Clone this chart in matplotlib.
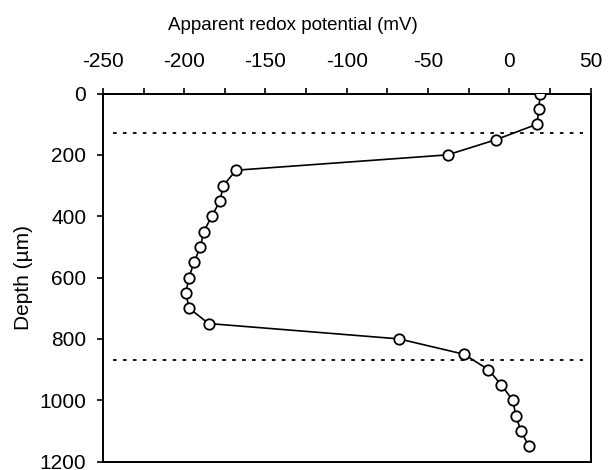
import matplotlib
matplotlib.use("Agg")
import matplotlib.pyplot as plt
from matplotlib.ticker import MultipleLocator

plt.rcParams['font.family'] = ['Liberation Sans', 'DejaVu Sans']
plt.rcParams['axes.unicode_minus'] = False

# depth profile (µm) and apparent redox potential (mV)
depth = [0, 50, 100, 150, 200, 250, 300, 350, 400, 450, 500, 550, 600, 650,
         700, 750, 800, 850, 900, 950, 1000, 1050, 1100, 1150]
redox = [19, 18, 17, -8, -38, -168, -176, -178, -183, -188, -190, -194, -197,
         -199, -197, -185, -68, -28, -13, -5, 2, 4, 7, 12]

# dotted boundary depths
boundaries = [130, 870]

fig = plt.figure(figsize=(6.16, 4.70), dpi=100)
ax = fig.add_axes([0.167, 0.018, 0.792, 0.783])

for b in boundaries:
    ax.plot([-244, 45], [b, b], color='black', linestyle=(0, (2, 3.5)), lw=1.3)

ax.plot(redox, depth, color='black', lw=1.2, marker='o', markersize=7.5,
        markerfacecolor='white', markeredgecolor='black', markeredgewidth=1.3,
        zorder=3)

ax.set_xlim(-250, 50)
ax.set_ylim(1200, 0)
ax.xaxis.set_major_locator(MultipleLocator(50))
ax.xaxis.set_minor_locator(MultipleLocator(25))
ax.yaxis.set_major_locator(MultipleLocator(200))
ax.xaxis.tick_top()
ax.tick_params(axis='x', which='both', direction='out', length=4.3, width=1.2,
               labelsize=15, pad=12)
ax.tick_params(axis='y', which='both', direction='out', length=4, width=1.2,
               labelsize=15, pad=8, right=False)
for s in ax.spines.values():
    s.set_linewidth(1.4)

ax.set_xlabel("Apparent redox potential (mV)", fontsize=13.5)
ax.xaxis.set_label_position('top')
ax.xaxis.set_label_coords(0.389, 1.172)
ax.set_ylabel("Depth (µm)", fontsize=15)
ax.yaxis.set_label_coords(-0.143, 0.5)

fig.savefig("out.png", dpi=100)
